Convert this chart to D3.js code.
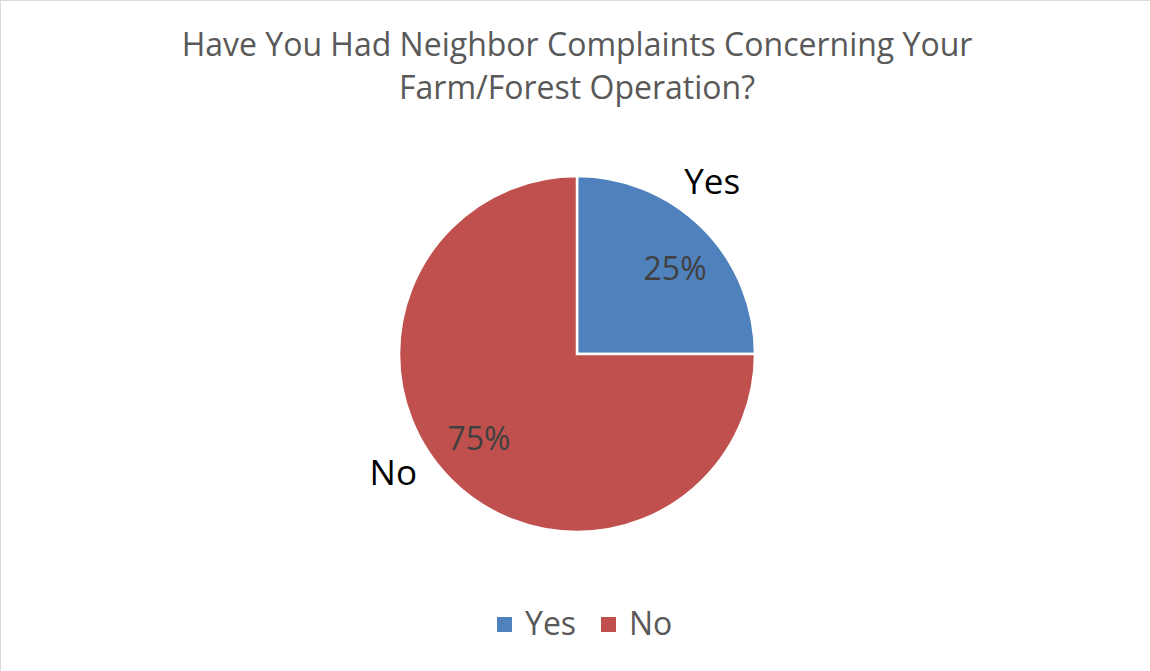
<!DOCTYPE html>
<html>
<head>
<meta charset="utf-8">
<script src="https://cdn.jsdelivr.net/npm/d3@7"></script>
<style>
  html, body { margin: 0; padding: 0; background: #fff; }
  svg { display: block; }
</style>
</head>
<body>
<svg id="chart" width="1150" height="671"></svg>
<script>
// Survey answers and their shares
const categories = ["Yes", "No"];
const values = [25, 75];
const colors = ["#4F81BD", "#C0504D"];
const titleLines = ["Have You Had Neighbor Complaints Concerning Your", "Farm/Forest Operation?"];

const font = "'Open Sans', sans-serif";
const svg = d3.select("#chart");
const W = 1150, H = 671;

// chart area frame (top and left edges visible)
svg.append("rect")
  .attr("x", 0.5).attr("y", 0.5)
  .attr("width", W + 10).attr("height", H + 10)
  .attr("fill", "#fff")
  .attr("stroke", "#d9d9d9").attr("stroke-width", 1);

// title
svg.append("g").selectAll("text")
  .data(titleLines)
  .join("text")
  .attr("x", 577)
  .attr("y", (d, i) => 56 + i * 43)
  .attr("text-anchor", "middle")
  .attr("font-family", font)
  .attr("font-size", 32)
  .attr("fill", "#595959")
  .text(d => d);

// pie
const cx = 577, cy = 354, R = 178;
const data = categories.map((c, i) => ({ cat: c, value: values[i], color: colors[i] }));
const pie = d3.pie().value(d => d.value).sort(null).startAngle(0).endAngle(2 * Math.PI);
const arcs = pie(data);
const arc = d3.arc().innerRadius(0).outerRadius(R);

const g = svg.append("g").attr("transform", `translate(${cx},${cy})`);
g.selectAll("path")
  .data(arcs)
  .join("path")
  .attr("d", arc)
  .attr("fill", d => d.data.color)
  .attr("stroke", "#fff")
  .attr("stroke-width", 2.5)
  .attr("stroke-linejoin", "miter");

// point on a circle of radius r at the slice's mid angle, turned by `shift` radians
function polar(d, r, shift) {
  const a = (d.startAngle + d.endAngle) / 2 + shift;
  return [Math.sin(a) * r, -Math.cos(a) * r];
}

// percentage labels inside slices
const total = d3.sum(values);
g.selectAll("text.pct")
  .data(arcs)
  .join("text")
  .attr("class", "pct")
  .attr("transform", d => `translate(${polar(d, R * 0.73, 0.07)})`)
  .attr("text-anchor", "middle")
  .attr("dy", "0.35em")
  .attr("font-family", font)
  .attr("font-size", 32)
  .attr("fill", "#404040")
  .text(d => Math.round(d.data.value / total * 100) + "%");

// category names outside the pie
const nameShift = { Yes: -0.12, No: 0.21 };
g.selectAll("text.name")
  .data(arcs)
  .join("text")
  .attr("class", "name")
  .attr("transform", d => `translate(${polar(d, R * 1.23, nameShift[d.data.cat])})`)
  .attr("text-anchor", "middle")
  .attr("dy", "0.35em")
  .attr("font-family", font)
  .attr("font-size", 35)
  .attr("fill", "#000")
  .text(d => d.data.cat);

// legend
const legend = svg.append("g").attr("transform", "translate(497,617)");
const item = legend.selectAll("g")
  .data(data)
  .join("g")
  .attr("transform", (d, i) => `translate(${i * 104},0)`);
item.append("rect")
  .attr("width", 15).attr("height", 15)
  .attr("fill", d => d.color);
item.append("text")
  .attr("x", 28).attr("y", 18)
  .attr("font-family", font)
  .attr("font-size", 32)
  .attr("fill", "#595959")
  .text(d => d.cat);
</script>
</body>
</html>
